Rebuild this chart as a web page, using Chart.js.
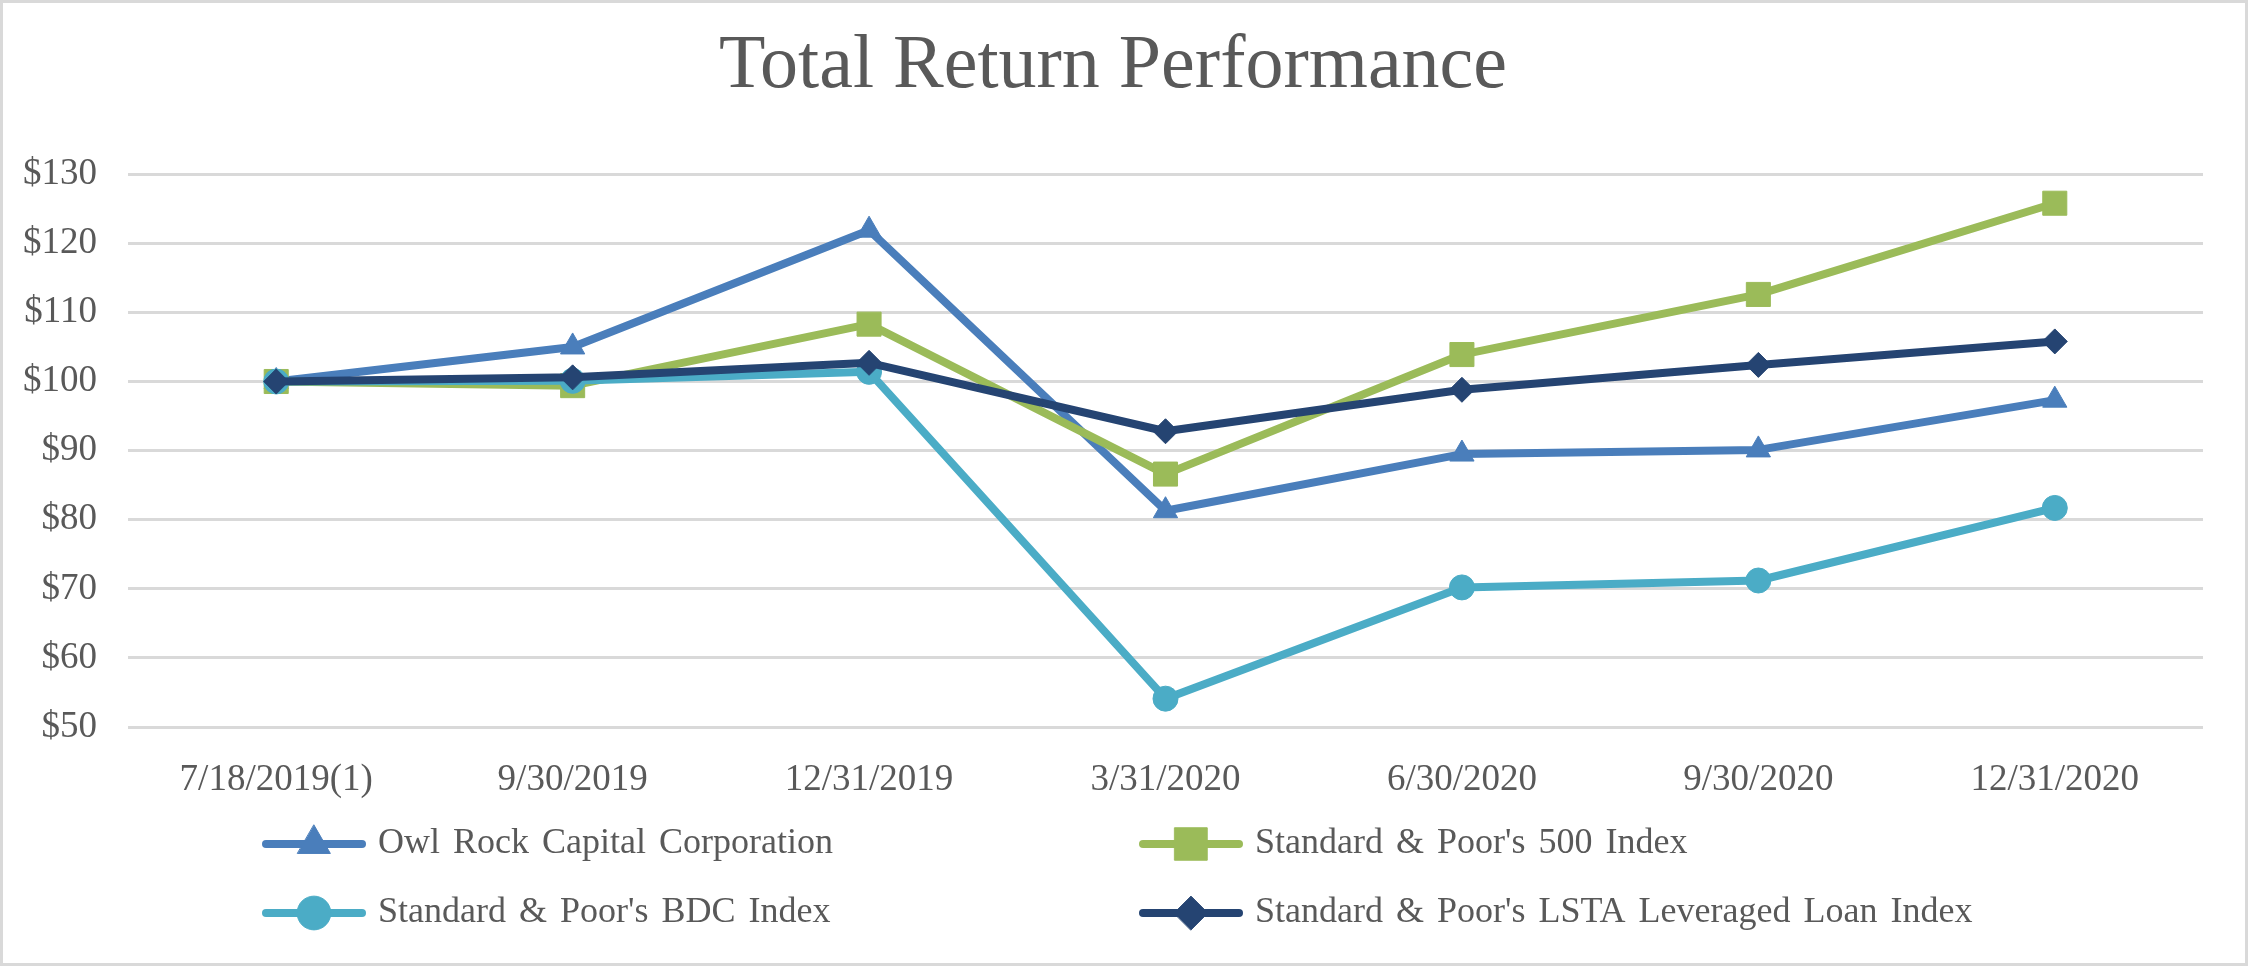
<!DOCTYPE html>
<html>
<head>
<meta charset="utf-8">
<title>Total Return Performance</title>
<script src="https://cdn.jsdelivr.net/npm/chart.js@4/dist/chart.umd.min.js"></script>
<style>
  html, body { margin: 0; padding: 0; background: #fff; overflow: hidden; }
  canvas { display: block; }
</style>
</head>
<body>
<canvas id="returnChart" width="2250" height="969"></canvas>
<script>
// values (value of $100 invested)
var periods = ["7/18/2019(1)", "9/30/2019", "12/31/2019", "3/31/2020", "6/30/2020", "9/30/2020", "12/31/2020"];
var owlRock = [100, 105.0, 121.9, 81.3, 89.5, 90.1, 97.3];
var sp500 = [100, 99.4, 108.3, 86.6, 103.9, 112.6, 125.8];
var bdcIndex = [100, 100.1, 101.4, 54.1, 70.2, 71.2, 81.7];
var lstaIndex = [100, 100.6, 102.7, 92.8, 98.8, 102.4, 105.8];
var yTicks = [50, 60, 70, 80, 90, 100, 110, 120, 130];

var textColor = '#595959';
Chart.defaults.font.family = "'Liberation Serif', 'Times New Roman', serif";
Chart.defaults.color = textColor;

function series(label, values, color, style, radius, order) {
    return {
        label: label,
        data: values,
        borderColor: color,
        backgroundColor: color,
        borderWidth: 8,
        borderJoinStyle: 'round',
        tension: 0,
        pointStyle: style,
        pointRadius: radius,
        pointHoverRadius: radius,
        pointBackgroundColor: color,
        pointBorderColor: color,
        pointBorderWidth: 1,
        order: order
    };
}

// legend laid out as a 2 x 2 grid under the axis, like the original
var gridLegend = {
    id: 'gridLegend',
    afterDraw: function (chart, args, opts) {
        var ctx = chart.ctx;
        ctx.save();
        ctx.font = opts.font;
        ctx.textBaseline = 'middle';
        ctx.textAlign = 'left';
        if ('wordSpacing' in ctx) ctx.wordSpacing = opts.wordSpacing;
        chart.data.datasets.forEach(function (ds, i) {
            var x = opts.columns[i % 2];
            var y = opts.rows[Math.floor(i / 2)];
            var half = ds.borderWidth / 2;
            ctx.strokeStyle = ds.borderColor;
            ctx.lineWidth = ds.borderWidth;
            ctx.lineCap = 'round';
            ctx.beginPath();
            ctx.moveTo(x + half, y);
            ctx.lineTo(x + opts.lineLength - half, y);
            ctx.stroke();

            ctx.fillStyle = ds.pointBackgroundColor;
            ctx.strokeStyle = ds.pointBorderColor;
            ctx.lineWidth = 1;
            Chart.helpers.drawPoint(ctx, {
                pointStyle: ds.pointStyle,
                radius: ds.pointRadius * opts.markerScale,
                borderWidth: 1,
                rotation: 0
            }, x + opts.lineLength / 2, y);

            ctx.fillStyle = opts.color;
            ctx.fillText(ds.label, x + opts.lineLength + opts.gap, y);
        });
        ctx.restore();
    }
};

var frame = {
    id: 'frame',
    beforeDraw: function (chart) {
        var ctx = chart.ctx;
        ctx.save();
        ctx.fillStyle = '#ffffff';
        ctx.fillRect(0, 0, chart.width, chart.height);
        ctx.strokeStyle = '#d9d9d9';
        ctx.lineWidth = 3;
        ctx.strokeRect(1.5, 1.5, chart.width - 5, chart.height - 6);
        ctx.restore();
    }
};

window.onload = function () {
    var ctx = document.getElementById('returnChart').getContext('2d');

    var chart = new Chart(ctx, {
        type: 'line',
        data: {
            labels: periods,
            datasets: [
                series("Owl Rock Capital Corporation", owlRock, '#4a7ebb', 'triangle', 14, 3),
                series("Standard & Poor's 500 Index", sp500, '#9bbb59', 'rect', 17, 2),
                series("Standard & Poor's BDC Index", bdcIndex, '#4bacc6', 'circle', 12.5, 1),
                series("Standard & Poor's LSTA Leveraged Loan Index", lstaIndex, '#254472', 'rectRot', 12.5, 0)
            ]
        },
        options: {
            responsive: false,
            devicePixelRatio: 1,
            animation: false,
            layout: {
                padding: { left: 23, right: 47, top: 0, bottom: 167 }
            },
            scales: {
                x: {
                    offset: true,
                    grid: { display: false, drawTicks: false },
                    border: { display: false },
                    ticks: {
                        color: textColor,
                        padding: 31,
                        maxRotation: 0,
                        autoSkip: false,
                        font: { size: 37 }
                    },
                    afterFit: function (scale) { scale.height = 75; }
                },
                y: {
                    min: yTicks[0],
                    max: yTicks[yTicks.length - 1],
                    grid: { color: '#d9d9d9', lineWidth: 3, drawTicks: false },
                    border: { display: false },
                    ticks: {
                        stepSize: yTicks[1] - yTicks[0],
                        color: textColor,
                        padding: 31,
                        font: { size: 37 },
                        callback: function (v) { return '$' + v; }
                    },
                    afterFit: function (scale) { scale.width = 105; }
                }
            },
            plugins: {
                title: {
                    display: true,
                    text: 'Total Return Performance',
                    color: textColor,
                    font: { size: 76, weight: 'normal', lineHeight: 1.2 },
                    padding: { top: 21, bottom: 62 }
                },
                legend: { display: false },
                tooltip: { enabled: false },
                gridLegend: {
                    font: "36px 'Liberation Serif', 'Times New Roman', serif",
                    color: textColor,
                    wordSpacing: '4px',
                    columns: [262, 1139],
                    rows: [844, 913],
                    lineLength: 104,
                    gap: 12,
                    markerScale: 1.35
                }
            }
        },
        plugins: [frame, gridLegend]
    });
};
</script>
</body>
</html>
